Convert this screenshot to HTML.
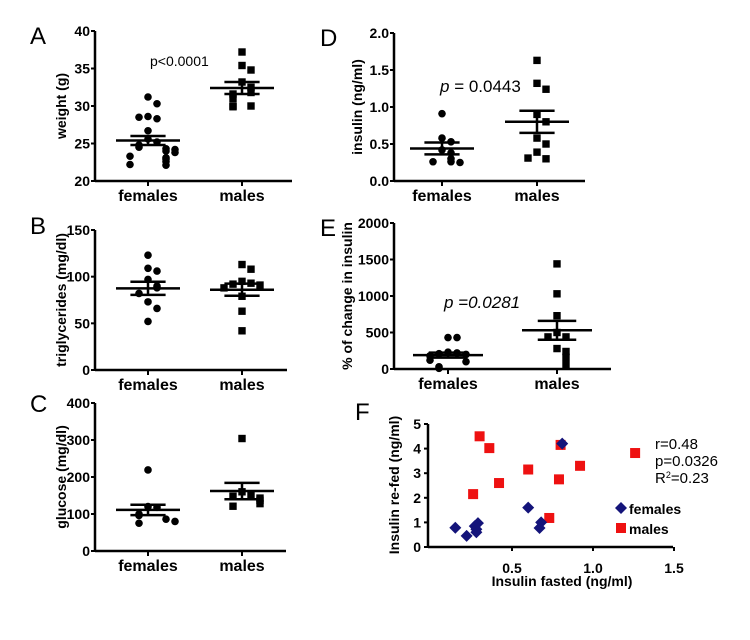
<!DOCTYPE html>
<html><head><meta charset="utf-8">
<style>
body{margin:0;background:#fff;}
svg{display:block;font-family:"Liberation Sans",Arial,sans-serif;}
.t{font-size:14px;font-weight:bold;fill:#000;}
.cat{font-size:16px;font-weight:bold;fill:#000;}
.lbl{font-size:24px;fill:#000;}
</style></head>
<body>
<svg id="fig" width="750" height="640" viewBox="0 0 750 640">
</svg>
<script>
// ---- data arrays ----
const cats = ["females","males"];
const weightF = [31.2,30.3,28.6,28.3,28.5,26.7,25.6,25.2,24.8,24.5,24.3,24.0,24.2,23.8,23.3,23.1,22.9,22.6,22.1,22.2];
const weightM = [37.2,35.4,34.8,33.2,32.5,31.8,31.6,31.0,30.0,30.0,29.9];
const weightStats = [[25.4,0.6],[32.4,0.8]];
const trigF = [123,109,106,97,90,88,82,73,66,52];
const trigM = [113,108,95,93,92,91,88,79,63,42];
const trigStats = [[87.5,7],[86,6.5]];
const gluF = [219,120,118,100,97,96,86,75,80];
const gluM = [304,160,150,148,143,137,128,121];
const gluStats = [[111,14],[162,22]];
const insF = [0.91,0.58,0.53,0.42,0.38,0.30,0.26,0.26,0.25];
const insM = [1.63,1.32,1.24,0.9,0.8,0.58,0.5,0.39,0.3,0.31];
const insStats = [[0.44,0.08],[0.80,0.15]];
const pctF = [430,430,230,220,210,200,180,120,100,30,10];
const pctM = [1440,1030,730,500,440,440,280,240,160,60];
const pctStats = [[190,35],[530,130]];
const fFemX = [0.15,0.22,0.27,0.28,0.28,0.29,0.6,0.68,0.67,0.81];
const fFemY = [0.78,0.45,0.85,0.72,0.6,0.97,1.6,1.0,0.77,4.2];
const fMalX = [0.3,0.36,0.26,0.42,0.6,0.79,0.8,0.92,0.73,1.26];
const fMalY = [4.5,4.02,2.15,2.6,3.15,2.75,4.15,3.3,1.18,3.82];
const fXTicks = [0.5,1.0,1.5];
const fYTicks = [0,1,2,3,4,5];

const NS="http://www.w3.org/2000/svg";
const svg=document.getElementById('fig');
function mk(tag,attrs,parent,txt){const e=document.createElementNS(NS,tag);for(const k in attrs)e.setAttribute(k,attrs[k]);if(txt!==undefined)e.textContent=txt;(parent||svg).appendChild(e);return e;}

function dotPanel(o){
  const g=mk('g',{});
  
  
  const y=v=>o.y0+(v-o.min)/(o.max-o.min)*(o.y1-o.y0);
  const ya=mk('line',{x1:o.ax,y1:o.y1,x2:o.ax,y2:o.y0,stroke:'#000','stroke-width':2.5},g);
  
  
  const xa=mk('line',{x1:o.ax,y1:o.y0,x2:o.axEnd,y2:o.y0,stroke:'#000','stroke-width':2.5},g);
  
  
  o.ticks.forEach(tv=>{
    mk('line',{x1:o.ax-4,y1:y(tv),x2:o.ax,y2:y(tv),stroke:'#000','stroke-width':2},g);
    const t=mk('text',{x:o.ax-5,y:y(tv)+5,'text-anchor':'end',class:'t','font-size':o.tsize||15},g,o.fmt(tv));
    
    
  });
  const yl=mk('text',{x:0,y:0,class:'t','text-anchor':'middle','font-size':o.ylsize||14,transform:`translate(${o.ylx},${(o.y0+o.y1)/2}) rotate(-90)`},g,o.ylabel);
  
  
  const L=mk('text',{x:o.lx,y:o.ly,class:'lbl'},g,o.letter);
  
  
  [o.f,o.m].forEach((arr,gi)=>{
    const cx=o.cx[gi];
    mk('line',{x1:cx,y1:o.y0,x2:cx,y2:o.y0+5,stroke:'#000','stroke-width':2},g);
    const c=mk('text',{x:cx,y:o.y0+20,'text-anchor':'middle',class:'cat'},g,cats[gi]);
    
    
    const used=[];
    arr.forEach((v,i)=>{
      const py=y(v);
      let n=used.filter(u=>Math.abs(u-py)<8).length;
      used.push(py);
      const off=n===0?0:(n%2?1:-1)*Math.ceil(n/2)*9;
      let m;
      if(gi===0){m=mk('circle',{cx:cx+off,cy:py,r:3.8,fill:'#000'},g);}
      else{m=mk('rect',{x:cx+off-3.7,y:py-3.7,width:7.4,height:7.4,fill:'#000'},g);}
      
      
    });
    const [mean,sem]=o.stats[gi];
    const w=o.hw;
    const ml=mk('line',{x1:cx-w,y1:y(mean),x2:cx+w,y2:y(mean),stroke:'#000','stroke-width':2.5},g);
    
    
    mk('line',{x1:cx,y1:y(mean-sem),x2:cx,y2:y(mean+sem),stroke:'#000','stroke-width':2.5},g);
    [mean-sem,mean+sem].forEach(v=>{const s=mk('line',{x1:cx-w*0.55,y1:y(v),x2:cx+w*0.55,y2:y(v),stroke:'#000','stroke-width':2.5},g);
      
      });
  });
  if(o.ptext){const p=mk('text',{x:o.px,y:o.py,'font-size':o.psize,fill:'#000','font-style':o.pital?'italic':'normal'},g);
    
    
    p.innerHTML=o.ptext;}
}

dotPanel({name:'panel-a-weight',letter:'A',lx:30,ly:44,ax:95,axEnd:292,y0:181,y1:31,min:20,max:40,ticks:[20,25,30,35,40],fmt:v=>v,ylabel:'weight (g)',ylx:66,ylsize:15,cx:[148,242],f:weightF,m:weightM,stats:weightStats,hw:32,ptext:'p&lt;0.0001',px:150,py:66,psize:14});
dotPanel({name:'panel-b-triglycerides',letter:'B',lx:30,ly:234,ax:95,axEnd:287,y0:370,y1:230,min:0,max:150,ticks:[0,50,100,150],fmt:v=>v,ylabel:'triglycerides  (mg/dl)',ylx:66,ylsize:15,cx:[148,242],f:trigF,m:trigM,stats:trigStats,hw:32});
dotPanel({name:'panel-c-glucose',letter:'C',lx:30,ly:412,ax:95,axEnd:286,y0:551,y1:403,min:0,max:400,ticks:[0,100,200,300,400],fmt:v=>v,ylabel:'glucose (mg/dl)',ylx:66,ylsize:15,cx:[148,242],f:gluF,m:gluM,stats:gluStats,hw:32,tsize:14});
dotPanel({name:'panel-d-insulin',letter:'D',lx:320,ly:46,ax:394,axEnd:585,y0:181,y1:33,min:0,max:2,ticks:[0,0.5,1,1.5,2],fmt:v=>v.toFixed(1),ylabel:'insulin (ng/ml)',ylx:362,ylsize:15,cx:[442,537],f:insF,m:insM,stats:insStats,hw:32,ptext:'<tspan font-style="italic">p</tspan> = 0.0443',px:440,py:92,psize:17});
dotPanel({name:'panel-e-insulin-change',letter:'E',lx:320,ly:236,ax:394,axEnd:611,y0:369,y1:223,min:0,max:2000,ticks:[0,500,1000,1500,2000],fmt:v=>v,ylabel:'% of change in insulin',ylx:352,ylsize:14,cx:[448,557],f:pctF,m:pctM,stats:pctStats,hw:35,ptext:'p =0.0281',px:444,py:308,psize:17,pital:true});

// ---- Panel F scatter ----
(function(){
  const g=mk('g',{});
  
  
  const X=v=>431+v*162, Y=v=>547-v*24.6;
  const ya=mk('line',{x1:428,y1:Y(5),x2:428,y2:547,stroke:'#000','stroke-width':2.5},g);
  
  
  const xa=mk('line',{x1:428,y1:547,x2:673,y2:547,stroke:'#000','stroke-width':2.5},g);
  
  
  fYTicks.forEach(v=>{mk('line',{x1:424,y1:Y(v),x2:428,y2:Y(v),stroke:'#000','stroke-width':2},g);
    const t=mk('text',{x:421,y:Y(v)+5,'text-anchor':'end',class:'t','font-size':'15'},g,v);
    
    });
  fXTicks.forEach(v=>{mk('line',{x1:X(v),y1:547,x2:X(v),y2:551,stroke:'#000','stroke-width':2},g);
    const t=mk('text',{x:X(v),y:573,'text-anchor':'middle',class:'t','font-size':'15'},g,v.toFixed(1));
    
    });
  const xt=mk('text',{x:562,y:586,'text-anchor':'middle',class:'t','font-size':'15'},g,'Insulin fasted (ng/ml)');
  
  
  const yt=mk('text',{x:0,y:0,'text-anchor':'middle',class:'t','font-size':'15',transform:'translate(399,485) rotate(-90)'},g,'Insulin re-fed (ng/ml)');
  
  
  const L=mk('text',{x:355,y:420,class:'lbl'},g,'F');
  
  
  fMalX.forEach((v,i)=>{const r=mk('rect',{x:X(v)-5,y:Y(fMalY[i])-5,width:10,height:10,fill:'#ee1111'},g);
    
    });
  fFemX.forEach((v,i)=>{const cx=X(v),cy=Y(fFemY[i]);
    const p=mk('polygon',{points:`${cx},${cy-6} ${cx+6},${cy} ${cx},${cy+6} ${cx-6},${cy}`,fill:'#14147a'},g);
    
    });
  const lf=mk('polygon',{points:'621,502 627,508 621,514 615,508',fill:'#14147a'},g);
  
  
  const lft=mk('text',{x:629,y:514,class:'t','font-size':'15'},g,'females');
  
  
  const lm=mk('rect',{x:616,y:523,width:10,height:10,fill:'#ee1111'},g);
  
  
  const lmt=mk('text',{x:629,y:534,class:'t','font-size':'15'},g,'males');
  
  
  const st=mk('text',{x:655,y:449,'font-size':'15',fill:'#000'},g);
  
  
  st.innerHTML='<tspan x="655" dy="0">r=0.48</tspan><tspan x="655" dy="17">p=0.0326</tspan><tspan x="655" dy="17">R<tspan font-size="9" dy="-5">2</tspan><tspan dy="5">=0.23</tspan></tspan>';
})();
</script>
</body></html>
